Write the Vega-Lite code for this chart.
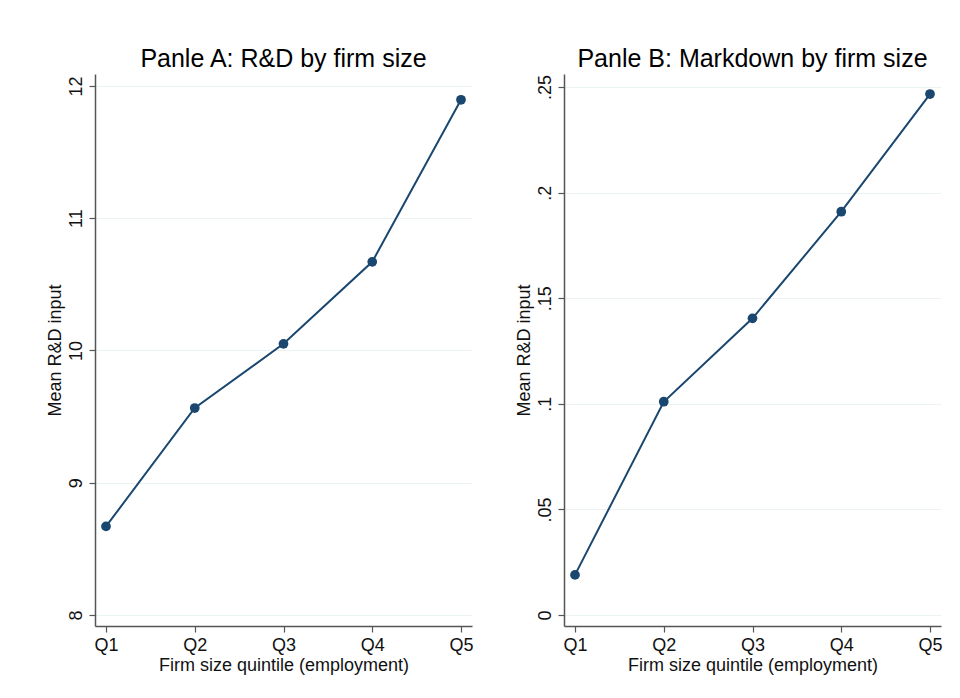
{
  "$schema": "https://vega.github.io/schema/vega-lite/v6.json",
  "background": "white",
  "padding": {"left": 46, "top": 47, "right": 5, "bottom": 5},
  "autosize": "pad",
  "data": {"values": [
    {"q": "Q1", "rd": 8.67, "md": 0.019},
    {"q": "Q2", "rd": 9.565, "md": 0.101},
    {"q": "Q3", "rd": 10.05, "md": 0.1405},
    {"q": "Q4", "rd": 10.67, "md": 0.191},
    {"q": "Q5", "rd": 11.895, "md": 0.2467}
  ]},
  "spacing": 41,
  "config": {
    "font": "Liberation Sans",
    "view": {"stroke": null},
    "title": {"font": "Liberation Sans", "fontSize": 25, "fontWeight": "normal", "color": "#000000", "offset": 2},
    "axis": {
      "labelFont": "Liberation Sans", "titleFont": "Liberation Sans",
      "labelFontSize": 18, "titleFontSize": 18, "titleFontWeight": "normal",
      "labelColor": "#111111", "titleColor": "#111111",
      "domainColor": "#555555", "tickColor": "#555555", "domainWidth": 1.5, "tickWidth": 1.2, "tickSize": 6
    }
  },
  "hconcat": [
    {
      "width": 377, "height": 552,
      "title": "Panle A: R&D by firm size",
      "encoding": {
        "x": {"field": "q", "type": "ordinal", "scale": {"type": "point", "padding": 0.124},
              "axis": {"title": "Firm size quintile (employment)", "labelAngle": 0, "labelPadding": 4, "titlePadding": 2, "grid": false}},
        "y": {"field": "rd", "type": "quantitative", "scale": {"domain": [7.917, 12.09], "nice": false, "zero": false},
              "axis": {"title": "Mean R&D input", "values": [8, 9, 10, 11, 12], "labelAngle": -90, "labelAlign": "center", "labelBaseline": "bottom", "labelPadding": 4, "titlePadding": 3, "grid": true, "gridColor": "#eaf2f3", "gridWidth": 1}}
      },
      "layer": [
        {"mark": {"type": "line", "color": "#1a476f", "strokeWidth": 2}},
        {"mark": {"type": "point", "filled": true, "opacity": 1, "color": "#1a476f", "size": 95}}
      ]
    },
    {
      "width": 377, "height": 552,
      "title": "Panle B: Markdown by firm size",
      "encoding": {
        "x": {"field": "q", "type": "ordinal", "scale": {"type": "point", "padding": 0.124},
              "axis": {"title": "Firm size quintile (employment)", "labelAngle": 0, "labelPadding": 4, "titlePadding": 2, "grid": false}},
        "y": {"field": "md", "type": "quantitative", "scale": {"domain": [-0.0052, 0.2562], "nice": false, "zero": false},
              "axis": {"title": "Mean R&D input", "values": [0, 0.05, 0.1, 0.15, 0.2, 0.25], "labelExpr": "datum.value == 0 ? '0' : replace(format(datum.value, '.2~f'), '0.', '.')", "labelAngle": -90, "labelAlign": "center", "labelBaseline": "bottom", "labelPadding": 4, "titlePadding": 3, "grid": true, "gridColor": "#eaf2f3", "gridWidth": 1}}
      },
      "layer": [
        {"mark": {"type": "line", "color": "#1a476f", "strokeWidth": 2}},
        {"mark": {"type": "point", "filled": true, "opacity": 1, "color": "#1a476f", "size": 95}}
      ]
    }
  ]
}
